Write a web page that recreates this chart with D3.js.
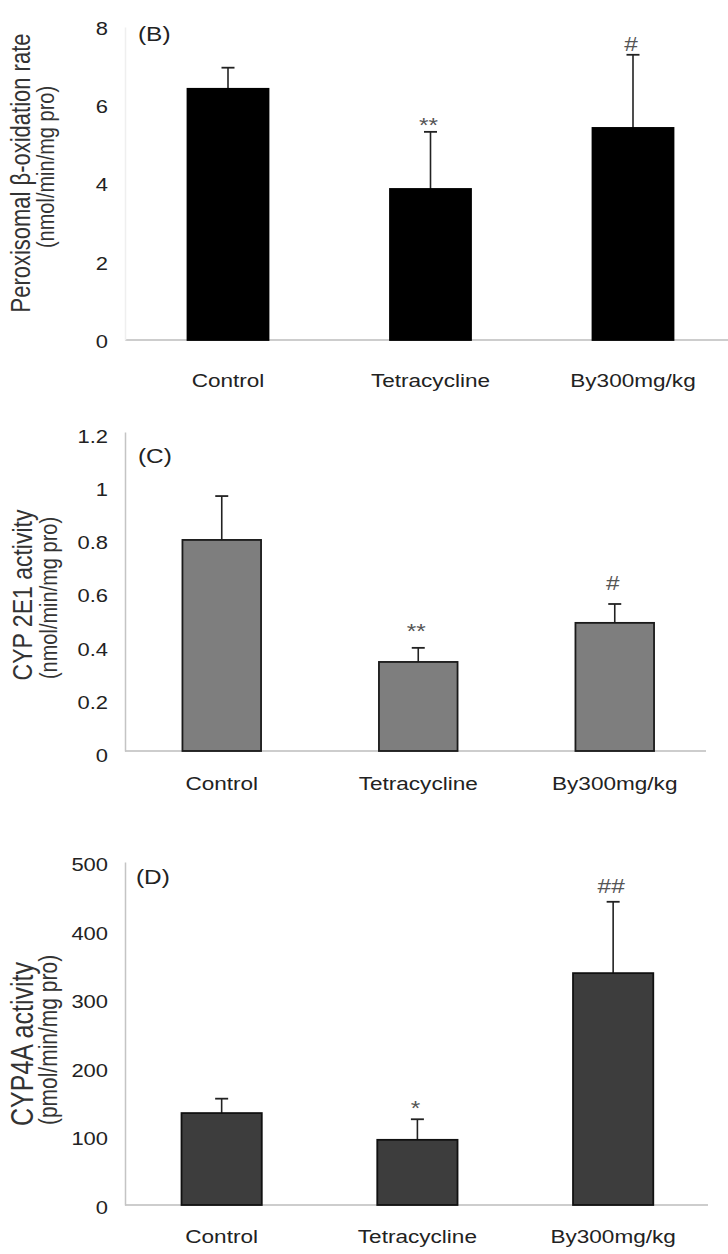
<!DOCTYPE html>
<html><head><meta charset="utf-8">
<script src="https://cdn.jsdelivr.net/npm/d3@7"></script>
<style>
html,body{margin:0;padding:0;background:#fff;}
svg{display:block;}
text{font-family:"Liberation Sans", Arial, sans-serif;}
</style>
</head><body>
<svg id="chart" width="728" height="1254"></svg>
<script>
// ---------- data ----------
const categories = ["Control", "Tetracycline", "By300mg/kg"];

const betaOxValues = [6.42, 3.86, 5.42];
const betaOxErrors = [0.54, 1.46, 1.87];
const betaOxMarks  = ["", "**", "#"];
const betaOxTicks  = [0, 2, 4, 6, 8];

const cyp2e1Values = [0.794, 0.335, 0.482];
const cyp2e1Errors = [0.165, 0.053, 0.071];
const cyp2e1Marks  = ["", "**", "#"];
const cyp2e1Ticks  = [0, 0.2, 0.4, 0.6, 0.8, 1, 1.2];

const cyp4aValues = [134, 95, 338];
const cyp4aErrors = [21, 30, 104];
const cyp4aMarks  = ["", "*", "##"];
const cyp4aTicks  = [0, 100, 200, 300, 400, 500];

const panelLabels = ["(B)", "(C)", "(D)"];
const titleLine1  = ["Peroxisomal β-oxidation rate", "CYP 2E1 activity", "CYP4A activity"];
const titleLine2  = ["(nmol/min/mg pro)", "(nmol/min/mg pro)", "(pmol/min/mg pro)"];

// ---------- layout ----------
const SX = 1.22;          // horizontal stretch of the source figure's text
const FS = 18;
const svg = d3.select("#chart");
svg.append("rect").attr("width", 728).attr("height", 1254).attr("fill", "#fff");

const panels = [
  { values: betaOxValues, errors: betaOxErrors, marks: betaOxMarks, ticks: betaOxTicks,
    yRange: [340, 27], xRange: [126.75, 734.25], padIn: 0.6, padOut: 0.3,
    baseEnd: 728, axisColor: "#efefef", fill: "#000", stroke: "#000", errColor: "#222",
    labelY: 381, plab: [138, 34], t1: [21, 173, 22], t2: [45, 167, 20], markGap: 11, tickDy: 1 },
  { values: cyp2e1Values, errors: cyp2e1Errors, marks: cyp2e1Marks, ticks: cyp2e1Ticks,
    yRange: [751, 432], xRange: [123.5, 713], padIn: 0.6, padOut: 0.3,
    baseEnd: 706, axisColor: "#c4c4c4", fill: "#7e7e7e", stroke: "#1a1a1a", errColor: "#222",
    labelY: 784, plab: [138, 456], t1: [22, 595, 23], t2: [48, 598, 20], markGap: 21, tickDy: 4 },
  { values: cyp4aValues, errors: cyp4aErrors, marks: cyp4aMarks, ticks: cyp4aTicks,
    yRange: [1205, 862], xRange: [122.8, 712], padIn: 0.59, padOut: 0.3,
    baseEnd: 708, axisColor: "#c4c4c4", fill: "#3d3d3d", stroke: "#111", errColor: "#222",
    labelY: 1237, plab: [136, 877], t1: [22, 1044, 25], t2: [48, 1040, 21], markGap: 16, tickDy: 2 }
];

panels.forEach((p, pi) => {
  const g = svg.append("g");
  const y = d3.scaleLinear().domain([0, d3.max(p.ticks)]).range(p.yRange);
  const x = d3.scaleBand().domain(categories).range(p.xRange)
              .paddingInner(p.padIn).paddingOuter(p.padOut);
  const axisX = 125;

  // baseline
  g.append("line").attr("x1", axisX).attr("x2", p.baseEnd)
    .attr("y1", y(0)).attr("y2", y(0))
    .attr("stroke", "#cdcdcd").attr("stroke-width", 2);

  // y axis
  const ya = g.append("g").attr("transform", `translate(${axisX},0)`)
    .call(d3.axisLeft(y).tickValues(p.ticks).tickSize(0).tickSizeOuter(0)
      .tickPadding(0).tickFormat(d3.format("~g")));
  ya.select(".domain").attr("stroke", p.axisColor).attr("stroke-width", 1.5);
  ya.selectAll(".tick text")
    .attr("x", -17 / SX).attr("y", p.tickDy).attr("dy", "0.36em")
    .attr("transform", `scale(${SX},1)`)
    .attr("font-size", FS).attr("fill", "#222").attr("font-family", null);

  // x axis labels
  const xa = g.append("g").attr("transform", `translate(0,${y(0)})`)
    .call(d3.axisBottom(x).tickSize(0).tickSizeOuter(0));
  xa.select(".domain").remove();
  xa.selectAll(".tick text")
    .attr("y", p.labelY - y(0)).attr("dy", "0.35em")
    .attr("transform", `scale(${SX},1)`)
    .attr("font-size", FS + 0.5).attr("fill", "#222").attr("font-family", null);

  const data = categories.map((c, i) => ({ c, v: p.values[i], e: p.errors[i], m: p.marks[i] }));

  // error bars (upper only)
  const eg = g.append("g");
  eg.selectAll("line.v").data(data).join("line").attr("class", "v")
    .attr("x1", d => x(d.c) + x.bandwidth() / 2).attr("x2", d => x(d.c) + x.bandwidth() / 2)
    .attr("y1", d => y(d.v)).attr("y2", d => y(d.v + d.e))
    .attr("stroke", p.errColor).attr("stroke-width", 1.6);
  eg.selectAll("line.cap").data(data).join("line").attr("class", "cap")
    .attr("x1", d => x(d.c) + x.bandwidth() / 2 - 6.5).attr("x2", d => x(d.c) + x.bandwidth() / 2 + 6.5)
    .attr("y1", d => y(d.v + d.e)).attr("y2", d => y(d.v + d.e))
    .attr("stroke", p.errColor).attr("stroke-width", 1.8);

  // bars
  g.append("g").selectAll("rect").data(data).join("rect")
    .attr("x", d => x(d.c)).attr("width", x.bandwidth())
    .attr("y", d => y(d.v)).attr("height", d => y(0) - y(d.v))
    .attr("fill", p.fill).attr("stroke", p.stroke).attr("stroke-width", 1.8);

  // significance marks
  g.append("g").selectAll("text").data(data.filter(d => d.m)).join("text")
    .attr("transform", d => {
      const cx = x(d.c) + x.bandwidth() / 2 - 2;
      const cy = y(d.v + d.e) - p.markGap;
      const base = cy + (d.m.indexOf("*") >= 0 ? 11.5 : 7);
      return `translate(${cx},${base}) scale(${SX},1)`;
    })
    .attr("text-anchor", "middle").attr("font-size", 20).attr("fill", "#555")
    .text(d => d.m);

  // panel label
  g.append("text")
    .attr("transform", `translate(${p.plab[0]},${p.plab[1]}) scale(${SX},1)`)
    .attr("dy", "0.35em").attr("font-size", 20).attr("fill", "#222")
    .text(panelLabels[pi]);

  // y titles
  [[titleLine1[pi], p.t1], [titleLine2[pi], p.t2]].forEach(([t, pos]) => {
    g.append("text")
      .attr("transform", `translate(${pos[0]},${pos[1]}) scale(${SX},1) rotate(-90)`)
      .attr("text-anchor", "middle").attr("dy", "0.35em")
      .attr("font-size", pos[2]).attr("fill", "#333")
      .text(t);
  });
});
</script>
</body></html>
